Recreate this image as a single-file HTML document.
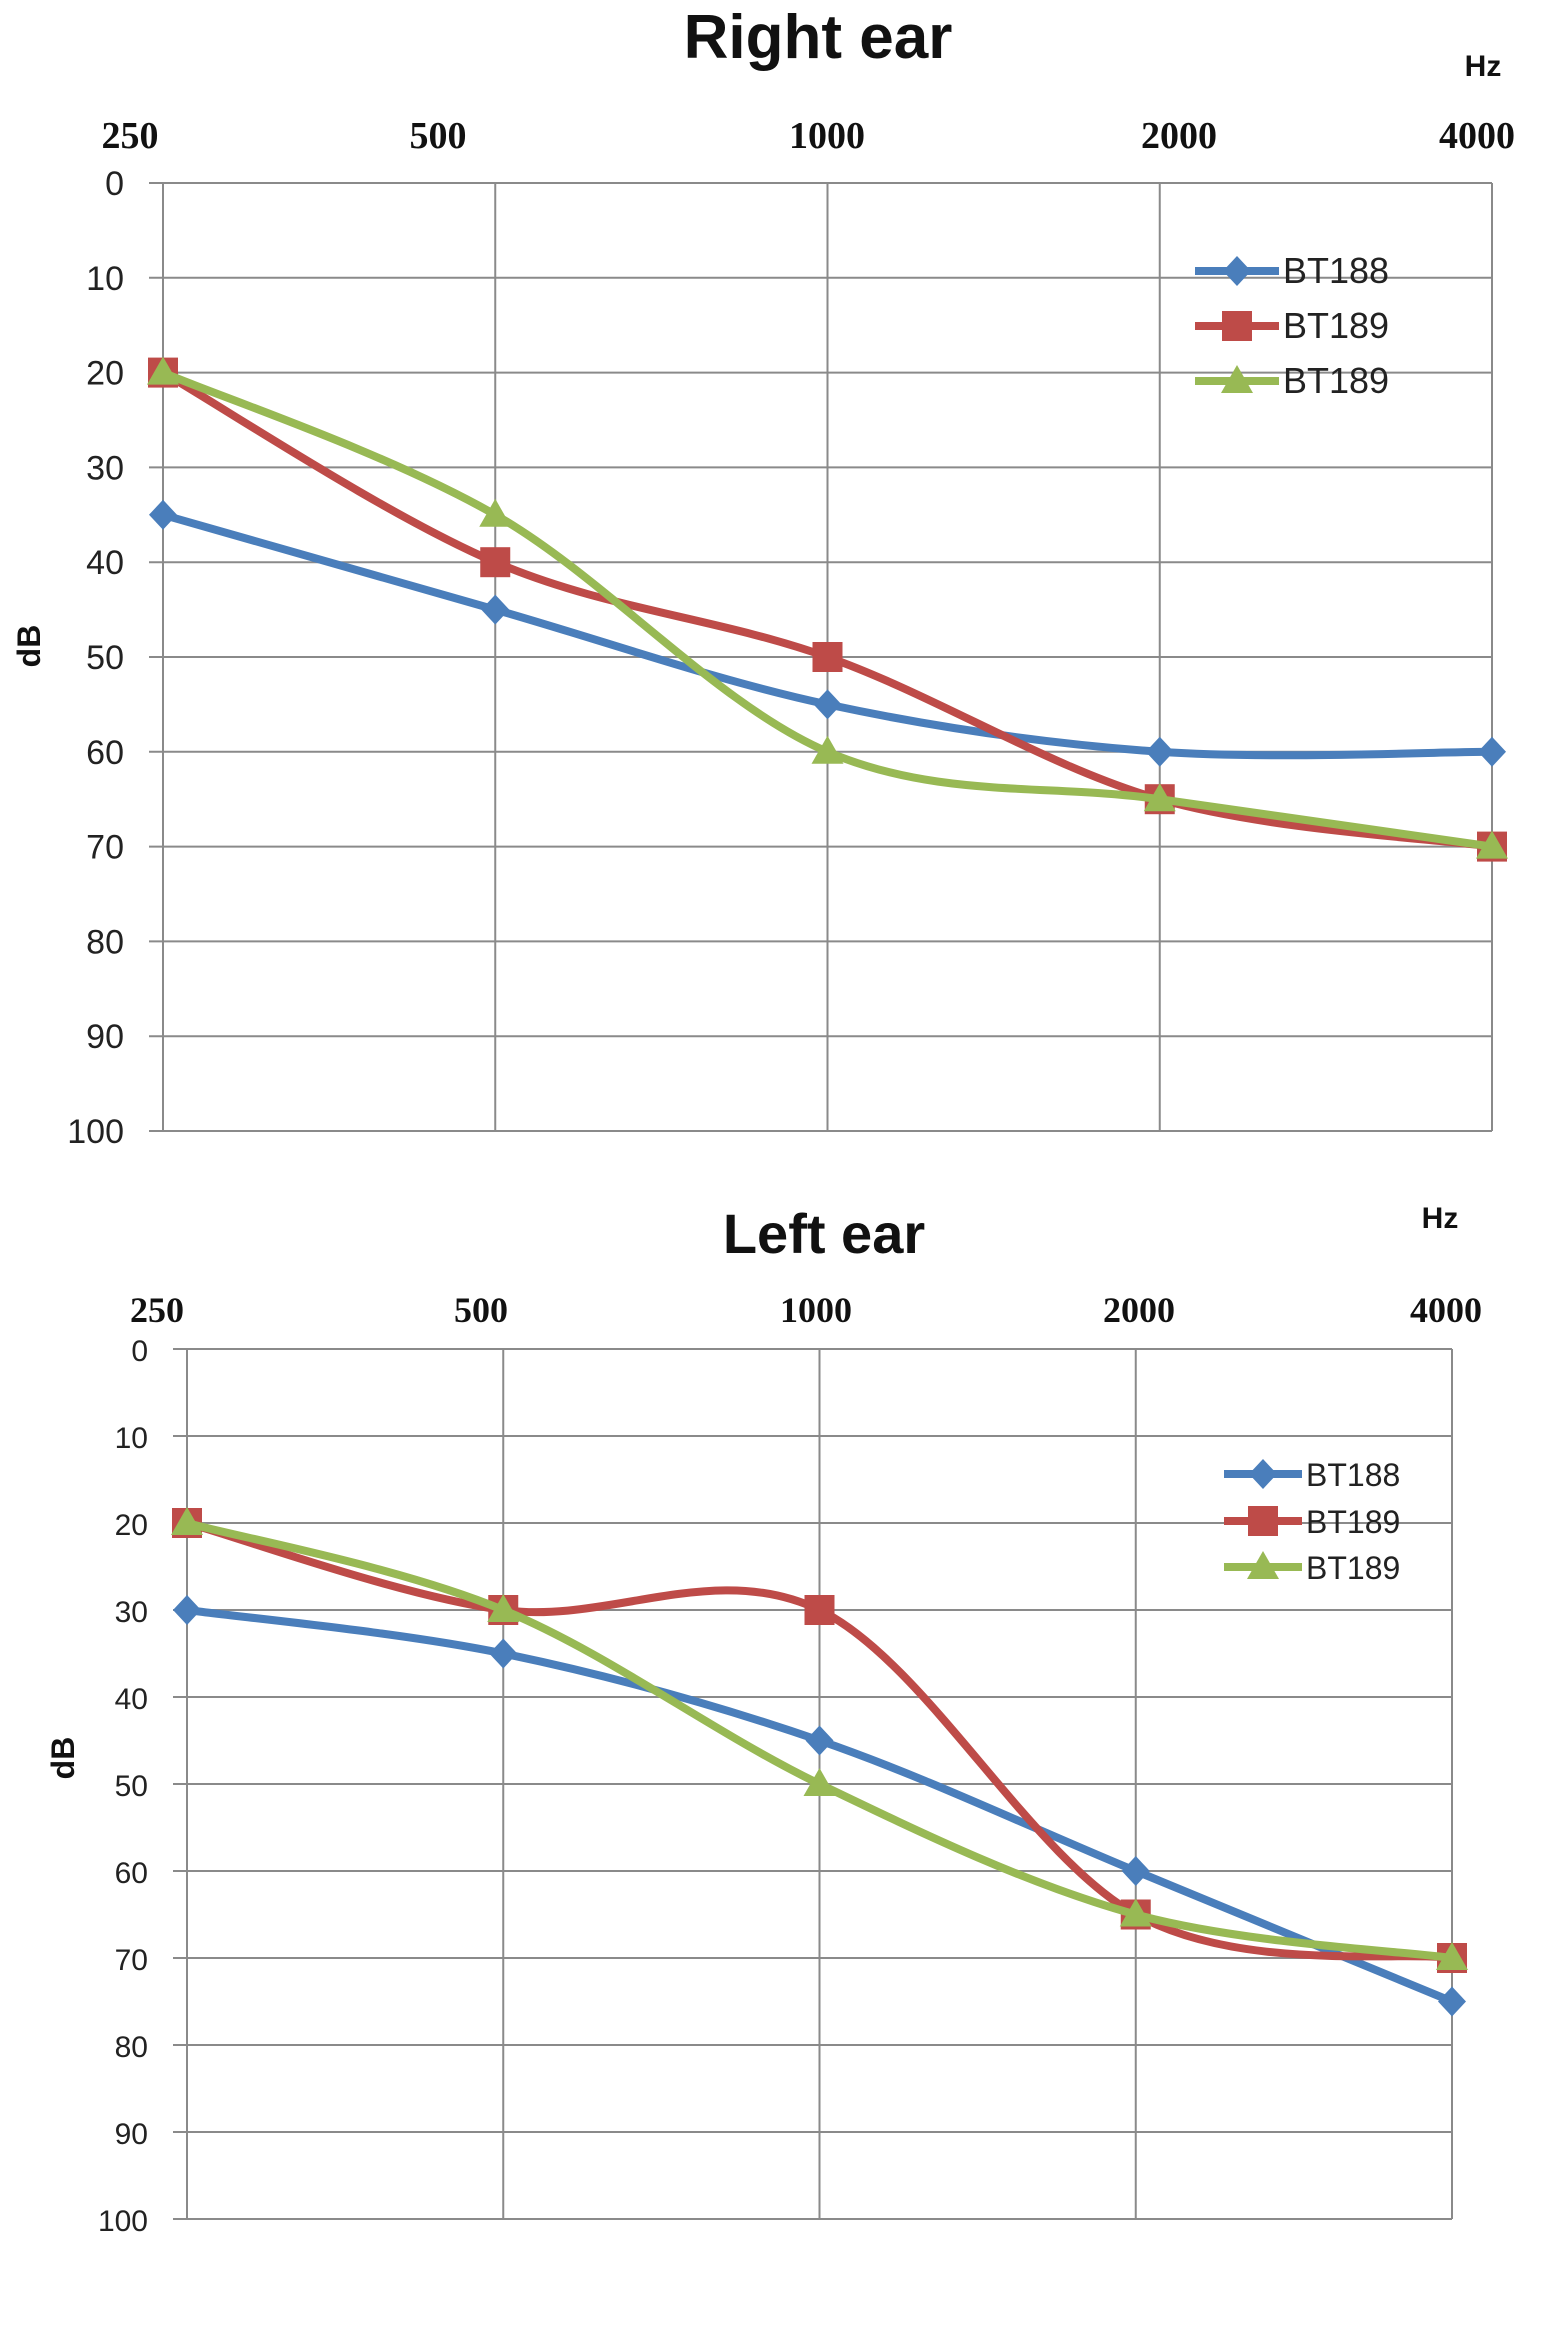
<!DOCTYPE html>
<html><head><meta charset="utf-8"><style>
html,body{margin:0;padding:0;background:#fff;}
svg{display:block;}
</style></head><body>
<svg id="chart" width="1548" height="2328" viewBox="0 0 1548 2328" xmlns="http://www.w3.org/2000/svg"></svg>
<script>
const freqLabels = ["250","500","1000","2000","4000"];
const yTicks = [0,10,20,30,40,50,60,70,80,90,100];
const seriesNames = ["BT188","BT189","BT189"];
const seriesColors = ["#4a7ebb","#be4b48","#98b954"];
const rightBT188 = [35,45,55,60,60];
const rightBT189a = [20,40,50,65,70];
const rightBT189b = [20,35,60,65,70];
const leftBT188 = [30,35,45,60,75];
const leftBT189a = [20,30,30,65,70];
const leftBT189b = [20,30,50,65,70];

const NS="http://www.w3.org/2000/svg";
const svg=document.getElementById('chart');
function mk(tag,attrs,parent){const e=document.createElementNS(NS,tag);for(const k in attrs)e.setAttribute(k,attrs[k]);(parent||svg).appendChild(e);return e;}

function drawChart(cfg,data){
  const g=mk('g',{});
  
  
  const xs=i=>cfg.left+(cfg.right-cfg.left)*i/(freqLabels.length-1);
  const ys=v=>cfg.top+(cfg.bottom-cfg.top)*v/100;
  yTicks.forEach(v=>{
    const l=mk('line',{x1:cfg.left-14,x2:cfg.right,y1:ys(v),y2:ys(v),stroke:'#8a8a8a','stroke-width':2},g);
    
    
    const t=mk('text',{x:cfg.ylx,y:ys(v)+12,'text-anchor':'end','font-family':'Liberation Sans, sans-serif','font-size':cfg.yfs,fill:'#222'},g);
    t.textContent=v;
    
    
  });
  freqLabels.forEach((f,i)=>{
    const l=mk('line',{x1:xs(i),x2:xs(i),y1:cfg.top,y2:cfg.bottom,stroke:'#8a8a8a','stroke-width':2},g);
    
    
    const t=mk('text',{x:cfg.xlabX[i],y:cfg.xly,'text-anchor':'middle','font-family':'Liberation Serif, serif','font-weight':'bold','font-size':cfg.xfs,fill:'#111'},g);
    t.textContent=f;
    
    
  });
  let t=mk('text',{x:cfg.titleX,y:cfg.titleY,'text-anchor':'middle','font-family':'Liberation Sans, sans-serif','font-weight':'bold','font-size':cfg.tfs,fill:'#111'},g);
  t.textContent=cfg.title;
  
  
  t=mk('text',{x:cfg.hzX,y:cfg.hzY,'text-anchor':'middle','font-family':'Liberation Sans, sans-serif','font-weight':'bold','font-size':30,fill:'#111'},g);
  t.textContent='Hz';
  
  
  t=mk('text',{x:0,y:0,'text-anchor':'middle','font-family':'Liberation Sans, sans-serif','font-weight':'bold','font-size':32,fill:'#111',transform:`translate(${cfg.dbX},${cfg.dbY}) rotate(-90)`},g);
  t.textContent='dB';
  
  
  data.forEach((vals,si)=>{
    const pts=vals.map((v,i)=>[xs(i),ys(v)]);
    let d='M'+pts[0][0]+','+pts[0][1];
    for(let i=0;i<pts.length-1;i++){
      const p0=pts[Math.max(0,i-1)],p1=pts[i],p2=pts[i+1],p3=pts[Math.min(pts.length-1,i+2)];
      const c1=[p1[0]+(p2[0]-p0[0])/6,p1[1]+(p2[1]-p0[1])/6];
      const c2=[p2[0]-(p3[0]-p1[0])/6,p2[1]-(p3[1]-p1[1])/6];
      d+=` C${c1[0]},${c1[1]} ${c2[0]},${c2[1]} ${p2[0]},${p2[1]}`;
    }
    const p=mk('path',{d:d,fill:'none',stroke:seriesColors[si],'stroke-width':8,'stroke-linejoin':'round'},g);
    
    
    pts.forEach(pt=>{
      const m=marker(si,pt[0],pt[1],g);
      
      
    });
  });
  seriesNames.forEach((n,si)=>{
    const y=cfg.legY[si];
    const l=mk('line',{x1:cfg.legX1,x2:cfg.legX2,y1:y,y2:y,stroke:seriesColors[si],'stroke-width':8},g);
    
    
    const m=marker(si,(cfg.legX1+cfg.legX2)/2,y,g);
    
    
    const tt=mk('text',{x:cfg.legX2+4,y:y+12,'font-family':'Liberation Sans, sans-serif','font-size':cfg.legfs,fill:'#222'},g);
    tt.textContent=n;
    
    
  });
}
function marker(si,x,y,g){
  const c=seriesColors[si];
  if(si===0) return mk('polygon',{points:`${x},${y-15} ${x+14},${y} ${x},${y+15} ${x-14},${y}`,fill:c},g);
  if(si===1) return mk('rect',{x:x-15,y:y-15,width:30,height:30,fill:c},g);
  return mk('polygon',{points:`${x},${y-16} ${x+16},${y+12} ${x-16},${y+12}`,fill:c},g);
}
drawChart({name:'right-ear-chart',title:'Right ear',left:163,right:1492,top:183,bottom:1131,
  ylx:124,yfs:34,xlabX:[130,438,827,1179,1477],xly:148,xfs:38,titleX:818,titleY:58,tfs:62,
  hzX:1483,hzY:76,dbX:40,dbY:646,legX1:1195,legX2:1279,legY:[271,326,381],legfs:36},
  [rightBT188,rightBT189a,rightBT189b]);
drawChart({name:'left-ear-chart',title:'Left ear',left:187,right:1452,top:1349,bottom:2219,
  ylx:148,yfs:30,xlabX:[157,481,816,1139,1446],xly:1322,xfs:36,titleX:824,titleY:1253,tfs:56,
  hzX:1440,hzY:1228,dbX:74,dbY:1758,legX1:1224,legX2:1302,legY:[1474,1521,1567],legfs:32},
  [leftBT188,leftBT189a,leftBT189b]);
</script>
</body></html>
